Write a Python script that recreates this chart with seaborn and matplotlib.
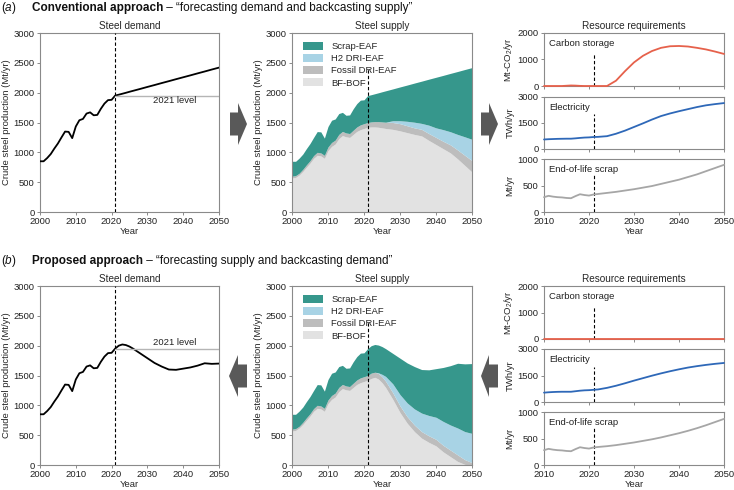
import numpy as np
import pandas as pd
import matplotlib
matplotlib.use("Agg")
import matplotlib.pyplot as plt
from matplotlib.patches import Polygon
import seaborn as sns

# ---------------- data ----------------
hist_years = list(range(2000, 2022))
hist_total = [850, 850, 904, 971, 1063, 1148, 1250, 1348, 1343, 1238, 1433, 1538,
              1560, 1650, 1670, 1621, 1627, 1730, 1817, 1875, 1880, 1951]
hist_bfbof = [570, 580, 620, 680, 750, 820, 900, 950, 940, 900, 1030, 1100,
              1140, 1230, 1280, 1260, 1250, 1300, 1350, 1380, 1400, 1420]
hist_fossil = [30, 30, 30, 35, 40, 40, 45, 50, 50, 50, 60, 65,
               65, 70, 70, 65, 65, 70, 75, 80, 80, 80]
hist_h2 = [0] * 22

fut_years = [2022, 2023, 2024, 2025, 2026, 2028, 2030, 2032, 2034, 2036, 2038,
             2040, 2042, 2044, 2046, 2048, 2050]

conv_total = [1966, 1982, 1998, 2015, 2031, 2063, 2096, 2128, 2161, 2193, 2226,
              2258, 2290, 2323, 2355, 2388, 2420]
conv_bfbof = [1425, 1425, 1420, 1410, 1400, 1385, 1360, 1330, 1300, 1275, 1200,
              1130, 1060, 990, 890, 780, 670]
conv_fossil = [85, 90, 95, 100, 105, 115, 120, 115, 110, 110, 115,
               120, 125, 135, 150, 170, 190]
conv_h2 = [0, 0, 0, 0, 0, 30, 50, 75, 95, 100, 140,
           160, 195, 220, 260, 310, 358]

prop_total = [2000, 2020, 2010, 1985, 1950, 1870, 1790, 1710, 1650, 1600, 1595,
              1615, 1635, 1665, 1705, 1695, 1700]
prop_bfbof = [1450, 1470, 1440, 1380, 1300, 1100, 880, 700, 560, 450, 380,
              320, 220, 140, 60, 10, 0]
prop_fossil = [90, 85, 95, 100, 105, 110, 110, 110, 110, 110, 110,
               110, 110, 110, 110, 80, 40]
prop_h2 = [0, 0, 10, 40, 80, 150, 190, 230, 270, 310, 340,
           370, 400, 420, 450, 470, 490]

level_2021 = 1951

res_years = list(range(2010, 2022)) + [2022, 2024, 2026, 2028, 2030, 2032, 2034,
                                       2036, 2038, 2040, 2042, 2044, 2046, 2048, 2050]
conv_carbon = [0, 0, 0, 0, 0, 10, 20, 15, 5, 0, 0, 0,
               0, 0, 200, 560, 890, 1140, 1320, 1440, 1500, 1510, 1490, 1440, 1380, 1300, 1210]
conv_elec = [550, 565, 575, 585, 590, 595, 595, 615, 640, 660, 670, 690,
             700, 740, 880, 1060, 1270, 1480, 1700, 1900, 2050, 2180, 2300, 2420, 2520, 2590, 2650]
conv_scrap = [280, 305, 290, 280, 275, 265, 260, 300, 335, 320, 310, 330,
              340, 360, 380, 405, 430, 460, 490, 530, 570, 610, 660, 710, 770, 830, 890]
prop_carbon = [0] * 27
prop_elec = [530, 550, 565, 575, 580, 580, 580, 610, 640, 660, 670, 690,
             710, 800, 920, 1060, 1210, 1350, 1490, 1620, 1740, 1850, 1950, 2030, 2100, 2160, 2210]
prop_scrap = [280, 305, 290, 280, 275, 265, 260, 300, 335, 320, 310, 330,
              340, 355, 375, 400, 425, 455, 485, 520, 560, 600, 645, 695, 750, 810, 870]

tech_labels = ["Scrap-EAF", "H2 DRI-EAF", "Fossil DRI-EAF", "BF-BOF"]
tech_colors = ["#36978c", "#a8d3e5", "#bdbdbd", "#e2e2e2"]

# ---------------- style ----------------
sns.set_theme(style="ticks")
plt.rcParams['font.family'] = ['Liberation Sans', 'DejaVu Sans']
plt.rcParams['mathtext.fontset'] = 'custom'
plt.rcParams['mathtext.rm'] = 'Liberation Sans'
plt.rcParams['mathtext.it'] = 'Liberation Sans:italic'
plt.rcParams['mathtext.bf'] = 'Liberation Sans:bold'
plt.rcParams['axes.edgecolor'] = '#8a8a8a'
plt.rcParams['axes.linewidth'] = 0.8
plt.rcParams['xtick.color'] = '#8a8a8a'
plt.rcParams['ytick.color'] = '#8a8a8a'
plt.rcParams['xtick.labelcolor'] = '#222222'
plt.rcParams['ytick.labelcolor'] = '#222222'
plt.rcParams['xtick.major.size'] = 2.5
plt.rcParams['ytick.major.size'] = 2.5
plt.rcParams['xtick.major.width'] = 0.7
plt.rcParams['ytick.major.width'] = 0.7
plt.rcParams['xtick.major.pad'] = 1.2
plt.rcParams['ytick.major.pad'] = 1.5

FS = 6.8
W, H = 734, 490
fig = plt.figure(figsize=(W / 100, H / 100), dpi=100)


def add_ax(l, r, t, b):
    return fig.add_axes([l / W, 1 - b / H, (r - l) / W, (b - t) / H])


def style_ax(ax):
    for s in ax.spines.values():
        s.set_visible(True)
        s.set_color('#8a8a8a')
        s.set_linewidth(0.8)
        s.set_zorder(1)
    ax.tick_params(labelsize=FS)


def demand_panel(t, b, fut_total, label_y):
    ax = add_ax(40, 219, t, b)
    df = pd.DataFrame({"Year": hist_years + fut_years, "v": hist_total + fut_total})
    sns.lineplot(data=df, x="Year", y="v", ax=ax, color="black", lw=1.3)
    sns.lineplot(x=[2021, 2050], y=[level_2021, level_2021], ax=ax, color="#b5b5b5", lw=1.0)
    ax.axvline(2021, color="black", ls=(0, (3, 2)), lw=0.8)
    ax.text(2037.5, label_y, "2021 level", fontsize=FS, ha="center", va="center", color="#222222")
    ax.set_xlim(2000, 2050)
    ax.set_ylim(0, 3000)
    ax.set_xticks([2000, 2010, 2020, 2030, 2040, 2050])
    ax.set_yticks([0, 500, 1000, 1500, 2000, 2500, 3000])
    ax.set_xlabel("Year", fontsize=FS, labelpad=0.5)
    ax.set_ylabel("Crude steel production (Mt/yr)", fontsize=FS, labelpad=2)
    ax.set_title("Steel demand", fontsize=FS + 0.4, pad=3)
    style_ax(ax)
    return ax


def supply_panel(t, b, fut_total, fut_bf, fut_fo, fut_h2):
    ax = add_ax(292, 472, t, b)
    yrs = np.array(hist_years + fut_years)
    tot = np.array(hist_total + fut_total, float)
    bf = np.array(hist_bfbof + fut_bf, float)
    fo = np.array(hist_fossil + fut_fo, float)
    h2 = np.array(hist_h2 + fut_h2, float)
    scrap = tot - bf - fo - h2
    polys = ax.stackplot(yrs, bf, fo, h2, scrap,
                         colors=[tech_colors[3], tech_colors[2], tech_colors[1], tech_colors[0]],
                         lw=0)
    ax.vlines(2021, 0, 2420, color="black", linestyles=(0, (3, 2)), lw=0.8)
    ax.set_xlim(2000, 2050)
    ax.set_ylim(0, 3000)
    ax.set_xticks([2000, 2010, 2020, 2030, 2040, 2050])
    ax.set_yticks([0, 500, 1000, 1500, 2000, 2500, 3000])
    ax.set_xlabel("Year", fontsize=FS, labelpad=0.5)
    ax.set_ylabel("Crude steel production (Mt/yr)", fontsize=FS, labelpad=2)
    ax.set_title("Steel supply", fontsize=FS + 0.4, pad=3)
    handles = [polys[3], polys[2], polys[1], polys[0]]
    ax.legend(handles, tech_labels, loc="upper left", frameon=False, fontsize=FS,
              handlelength=2.1, handleheight=0.85, labelspacing=0.32, handletextpad=0.9,
              borderaxespad=0.3, bbox_to_anchor=(0.025, 0.985))
    style_ax(ax)
    return ax


def res_panels(tops, carbon, elec, scrap):
    specs = [
        (carbon, "#e6614b", "Carbon storage", "Mt-CO$_2$/yr", [0, 1000, 2000], 2000, 1250),
        (elec, "#2e68b8", "Electricity", "TWh/yr", [0, 1500, 3000], 3000, 2000),
        (scrap, "#a6a6a6", "End-of-life scrap", "Mt/yr", [0, 500, 1000], 1000, 700),
    ]
    axes = []
    for (t, b), (vals, col, name, ylab, yt, ymax, dash) in zip(tops, specs):
        ax = add_ax(544, 724, t, b)
        sns.lineplot(x=res_years, y=vals, ax=ax, color=col, lw=1.3, zorder=3, clip_on=False)
        ax.vlines(2021, 0, dash, color="black", linestyles=(0, (3, 2)), lw=0.8)
        ax.set_xlim(2010, 2050)
        ax.set_ylim(0, ymax)
        ax.set_yticks(yt)
        ax.set_xticks([2010, 2020, 2030, 2040, 2050])
        ax.set_ylabel(ylab, fontsize=FS, labelpad=2)
        ax.text(0.03, 0.88, name, transform=ax.transAxes, fontsize=FS, va="top", ha="left",
                color="#222222")
        style_ax(ax)
        axes.append(ax)
    for ax in axes[:2]:
        ax.tick_params(labelbottom=False)
    axes[2].set_xlabel("Year", fontsize=FS, labelpad=0.5)
    axes[0].set_title("Resource requirements", fontsize=FS + 0.4, pad=3)
    return axes


# top row
demand_panel(33, 212, conv_total, 1870)
supply_panel(33, 212, conv_total, conv_bfbof, conv_fossil, conv_h2)
res_panels([(33, 86), (97, 149), (159, 212)], conv_carbon, conv_elec, conv_scrap)

# bottom row
demand_panel(286, 465, prop_total, 2050)
supply_panel(286, 465, prop_total, prop_bfbof, prop_fossil, prop_h2)
res_panels([(286, 339), (349, 402), (412, 465)], prop_carbon, prop_elec, prop_scrap)


# arrows
def arrow(x_tail, x_base, x_tip, y_c, half_body=11.5, half_head=21):
    pts = [(x_tail, y_c - half_body), (x_base, y_c - half_body), (x_base, y_c - half_head),
           (x_tip, y_c), (x_base, y_c + half_head), (x_base, y_c + half_body),
           (x_tail, y_c + half_body)]
    pts = [(x / W, 1 - y / H) for x, y in pts]
    fig.patches.append(Polygon(pts, closed=True, transform=fig.transFigure,
                               facecolor="#595959", edgecolor="none"))


arrow(230, 238, 247, 124)
arrow(481, 489, 498, 124)
arrow(247, 238, 229, 376)
arrow(498, 489, 481, 376)

# headers
renderer = fig.canvas.get_renderer()
HFS = 8.5


def header(y, letter, bold, rest):
    fig.text(1 / W, 1 - y / H, "($\\mathit{" + letter + "}$)", fontsize=HFS,
             va="center", ha="left", color="#111111")
    tb = fig.text(32 / W, 1 - y / H, bold, fontsize=HFS, fontweight="bold",
                  va="center", ha="left", color="#111111")
    bb = tb.get_window_extent(renderer)
    fig.text(bb.x1 / W, 1 - y / H, rest, fontsize=HFS, va="center", ha="left",
             color="#111111")


header(8, "a", "Conventional approach", " \u2013 \u201cforecasting demand and backcasting supply\u201d")
header(261, "b", "Proposed approach", " \u2013 \u201cforecasting supply and backcasting demand\u201d")

fig.savefig("out.png", dpi=100)
